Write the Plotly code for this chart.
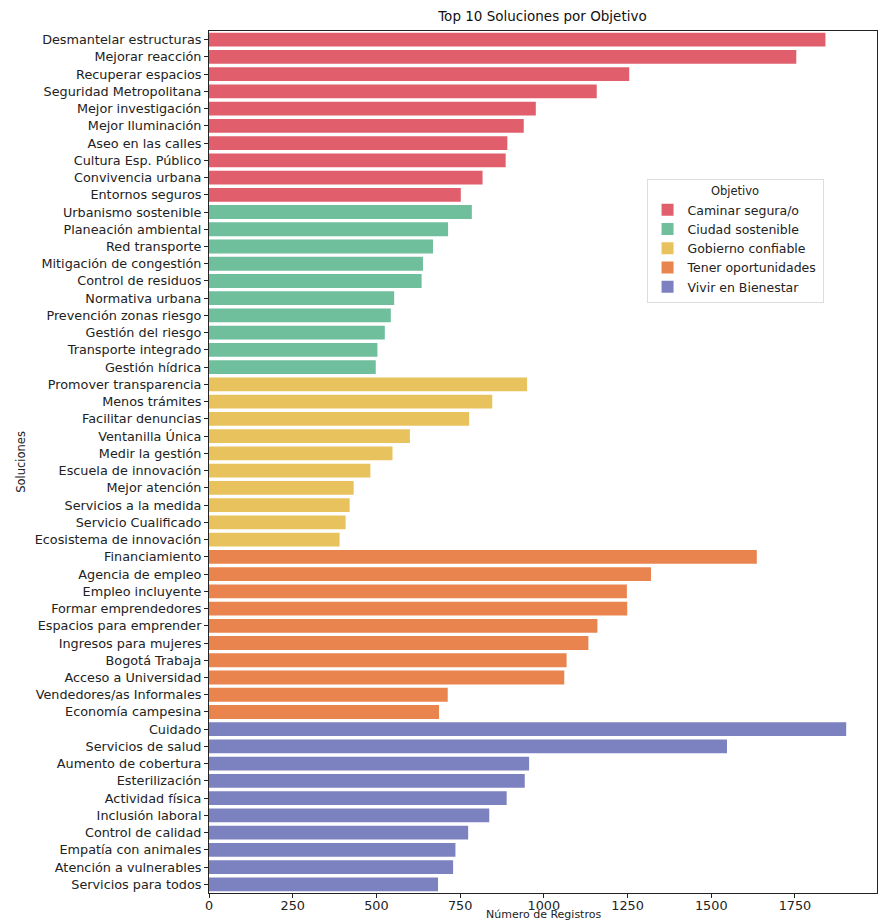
import plotly.graph_objects as go

objetivos = ["Caminar segura/o", "Ciudad sostenible", "Gobierno confiable",
             "Tener oportunidades", "Vivir en Bienestar"]
colores = ["#E15E6C", "#6FBE9C", "#E8C25C", "#E9844F", "#7C81C0"]

caminar_labels = ["Desmantelar estructuras", "Mejorar reacción", "Recuperar espacios",
                  "Seguridad Metropolitana", "Mejor investigación", "Mejor Iluminación",
                  "Aseo en las calles", "Cultura Esp. Público", "Convivencia urbana",
                  "Entornos seguros"]
caminar_vals = [1841, 1754, 1255, 1158, 976, 940, 891, 886, 817, 752]

ciudad_labels = ["Urbanismo sostenible", "Planeación ambiental", "Red transporte",
                 "Mitigación de congestión", "Control de residuos", "Normativa urbana",
                 "Prevención zonas riesgo", "Gestión del riesgo", "Transporte integrado",
                 "Gestión hídrica"]
ciudad_vals = [785, 714, 669, 639, 635, 553, 543, 525, 503, 498]

gobierno_labels = ["Promover transparencia", "Menos trámites", "Facilitar denuncias",
                   "Ventanilla Única", "Medir la gestión", "Escuela de innovación",
                   "Mejor atención", "Servicios a la medida", "Servicio Cualificado",
                   "Ecosistema de innovación"]
gobierno_vals = [950, 846, 777, 600, 548, 482, 432, 420, 408, 390]

tener_labels = ["Financiamiento", "Agencia de empleo", "Empleo incluyente",
                "Formar emprendedores", "Espacios para emprender", "Ingresos para mujeres",
                "Bogotá Trabaja", "Acceso a Universidad", "Vendedores/as Informales",
                "Economía campesina"]
tener_vals = [1636, 1320, 1248, 1249, 1160, 1133, 1068, 1061, 713, 687]

vivir_labels = ["Cuidado", "Servicios de salud", "Aumento de cobertura", "Esterilización",
                "Actividad física", "Inclusión laboral", "Control de calidad",
                "Empatía con animales", "Atención a vulnerables", "Servicios para todos"]
vivir_vals = [1903, 1547, 956, 943, 889, 837, 774, 736, 729, 684]

x_ticks = [0, 250, 500, 750, 1000, 1250, 1500, 1750]

groups = [
    (caminar_labels, caminar_vals),
    (ciudad_labels, ciudad_vals),
    (gobierno_labels, gobierno_vals),
    (tener_labels, tener_vals),
    (vivir_labels, vivir_vals),
]

FONT = "DejaVu Sans"
fig = go.Figure()
all_labels = []
for name, color, (labels, vals) in zip(objetivos, colores, groups):
    all_labels += labels
    fig.add_trace(go.Bar(
        x=vals, y=labels, orientation="h", name=name,
        marker=dict(color=color, line=dict(width=0)), width=0.8,
    ))

fig.update_layout(
    width=882, height=920,
    margin=dict(l=209, r=5, t=31, b=27),
    paper_bgcolor="white", plot_bgcolor="white",
    font=dict(family=FONT, size=12.8, color="#222"),
    title=dict(text="Top 10 Soluciones por Objetivo", x=0.615, xanchor="center",
               y=0.982, yanchor="middle", font=dict(size=13.5, family=FONT, color="#111")),
    barmode="overlay",
    showlegend=True,
    legend=dict(
        title=dict(text="Objetivo", side="top center", font=dict(size=11.5)),
        x=0.655, xanchor="left", y=0.828, yanchor="top",
        bgcolor="white", bordercolor="#DDDDDD", borderwidth=1,
        font=dict(size=12.5, family=FONT), tracegroupgap=0, itemwidth=30,
    ),
    annotations=[dict(
        text="Número de Registros", xref="paper", yref="paper", x=0.5, y=0,
        xanchor="center", yanchor="top", yshift=-13, showarrow=False,
        font=dict(size=11, family=FONT, color="#222"),
    )],
)
fig.update_xaxes(
    range=[0, 1995], tickvals=x_ticks, ticktext=[str(t) for t in x_ticks],
    ticks="outside", ticklen=4, tickcolor="#222", showgrid=False, zeroline=False,
    showline=True, linecolor="#222", linewidth=1, mirror=True,
    ticklabelstandoff=-3,
    automargin=False, tickfont=dict(size=12.8),
)
fig.update_yaxes(
    categoryorder="array", categoryarray=all_labels, autorange="reversed",
    ticks="outside", ticklen=4, tickcolor="#222", showgrid=False, zeroline=False,
    showline=True, linecolor="#222", linewidth=1, mirror=True,
    title=dict(text="Soluciones", standoff=6, font=dict(size=11.5)),
    automargin=False, tickfont=dict(size=12.8),
)
fig.write_html("out.html", config={"displayModeBar": False},
               post_script="document.body.style.margin='0';document.body.style.overflow='hidden';")
